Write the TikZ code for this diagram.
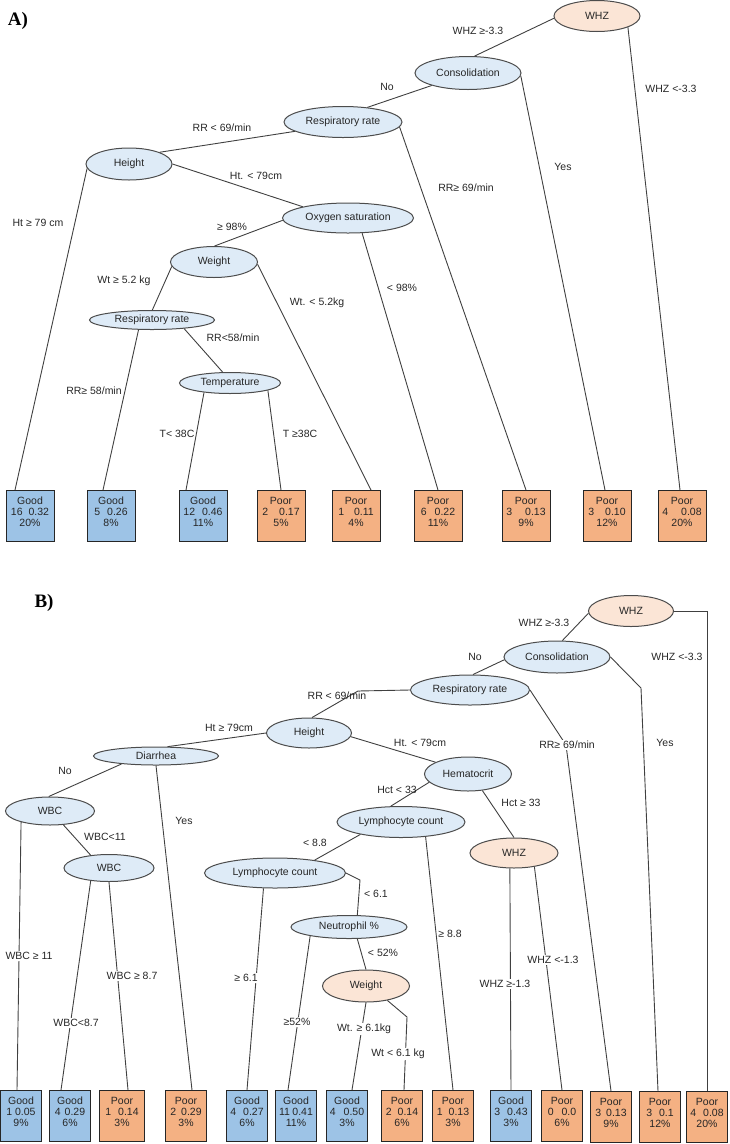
\documentclass[tikz,border=0pt]{standalone}
\usepackage{fontspec}
\setmainfont{Liberation Sans}
\newfontfamily\panelfont{Liberation Serif}
\usepackage{xcolor}
\usepackage{tikz}
\usetikzlibrary{shapes.geometric}
\definecolor{splitblue}{HTML}{DEEBF7}
\definecolor{splitpk}{HTML}{FBE5D6}
\definecolor{goodcolor}{HTML}{9DC3E6}
\definecolor{poorcolor}{HTML}{F4B183}
\definecolor{inkcolor}{HTML}{262626}
\newcommand{\outcome}[3]{\raisebox{0pt}[0pt][0pt]{\begin{tabular}{@{}c@{}}#1\\#2\\#3\end{tabular}}}

\begin{document}
\begin{tikzpicture}[x=1pt, y=-1pt, font=\fontsize{10.5}{11}\selectfont, text=inkcolor,
    split/.style={ellipse, draw=black!70, line width=1pt, fill=splitblue, inner sep=0pt},
    splitwarm/.style={split, fill=splitpk},
    leaf/.style={rectangle, draw=black!85, line width=1pt, inner sep=0pt, minimum width=48pt, minimum height=51pt},
    good/.style={leaf, fill=goodcolor},
    poor/.style={leaf, fill=poorcolor},
    branch/.style={draw=black!75, line width=0.9pt},
    cond/.style={inner sep=1pt},
    condcut/.style={cond, fill=white}]

    \useasboundingbox (0,0) rectangle (730,1144);

    % Panel tags
    \node[font=\panelfont\bfseries\fontsize{19}{19}\selectfont, text=black] (tagA) at (18,21) {A)};
    \node[font=\panelfont\bfseries\fontsize{19}{19}\selectfont, text=black] (tagB) at (44,603) {B)};

    % ---- Tree A: splits
    \node[splitwarm, minimum width=86pt, minimum height=31pt] (aWHZ) at (597,16) {WHZ};
    \node[split, minimum width=106pt, minimum height=33pt] (aCon) at (468,73) {Consolidation};
    \node[split, minimum width=118pt, minimum height=31pt] (aRR) at (343,122) {Respiratory rate};
    \node[split, minimum width=86pt, minimum height=32pt] (aHt) at (129,164) {Height};
    \node[split, minimum width=131pt, minimum height=30pt] (aOx) at (348,218) {Oxygen saturation};
    \node[split, minimum width=87pt, minimum height=31pt] (aWt) at (214,262) {Weight};
    \node[split, minimum width=125pt, minimum height=19pt] (aRR2) at (152,320) {Respiratory rate};
    \node[split, minimum width=101pt, minimum height=21pt] (aTmp) at (230,383) {Temperature};

    % Tree A: outcomes
    \node[good] (aL1) at (30,516) {\outcome{Good}{16\hspace{6pt}0.32}{20\%}};
    \node[good] (aL2) at (111,516) {\outcome{Good}{5\hspace{7pt}0.26}{8\%}};
    \node[good] (aL3) at (203,516) {\outcome{Good}{12\hspace{7pt}0.46}{11\%}};
    \node[poor] (aL4) at (281,516) {\outcome{Poor}{2\hspace{11pt}0.17}{5\%}};
    \node[poor] (aL5) at (356,516) {\outcome{Poor}{1\hspace{10pt}0.11}{4\%}};
    \node[poor] (aL6) at (438,516) {\outcome{Poor}{6\hspace{8pt}0.22}{11\%}};
    \node[poor] (aL7) at (526,516) {\outcome{Poor}{3\hspace{13pt}0.13}{9\%}};
    \node[poor] (aL8) at (607,516) {\outcome{Poor}{3\hspace{11pt}0.10}{12\%}};
    \node[poor] (aL9) at (682,516) {\outcome{Poor}{4\hspace{13pt}0.08}{20\%}};

    % Tree A: branches
    \draw[branch] (aWHZ.183) -- (aCon.69);
    \draw[branch] (aWHZ.-20) -- ([xshift=-2pt]aL9.north);
    \draw[branch] (aCon.199) -- (aRR.31);
    \draw[branch] (aCon.-3) -- ([xshift=-2pt]aL8.north);
    \draw[branch] (aRR.191) -- (aHt.21);
    \draw[branch] (aRR.-5) -- (aL7.north);
    \draw[branch] (aHt.east) -- (aOx.166);
    \draw[branch] (aHt.186) -- ([xshift=-15pt]aL1.north);
    \draw[branch] (aOx.182) -- (aWt.88);
    \draw[branch] (aOx.-47) -- (aL6.north);
    \draw[branch] (aWt.186) -- (aRR2.88);
    \draw[branch] (aWt.-3) -- ([xshift=15pt]aL5.north);
    \draw[branch] (aRR2.216) -- ([xshift=-8pt]aL2.north);
    \draw[branch] (aRR2.-15) -- (aTmp.124);
    \draw[branch] (aTmp.200) -- ([xshift=-17pt]aL3.north);
    \draw[branch] (aTmp.-11) -- (aL4.north);

    % Tree A: split conditions
    \node[cond] (lA1) at (478,31) {WHZ ≥-3.3};
    \node[cond] (lA2) at (671,89) {WHZ <-3.3};
    \node[cond] (lA3) at (387,87) {No};
    \node[cond] (lA4) at (563,167) {Yes};
    \node[cond] (lA5) at (222,128) {RR < 69/min};
    \node[cond] (lA6) at (466,188) {RR≥ 69/min};
    \node[cond] (lA7) at (256,176) {Ht. < 79cm};
    \node[cond] (lA8) at (38,223) {Ht ≥ 79 cm};
    \node[cond] (lA9) at (232,227) {≥ 98\%};
    \node[cond] (lA10) at (402,288) {< 98\%};
    \node[cond] (lA11) at (124,281) {Wt ≥ 5.2 kg};
    \node[cond] (lA12) at (317,303) {Wt. < 5.2kg};
    \node[cond] (lA13) at (94,391) {RR≥ 58/min};
    \node[cond] (lA14) at (233,338) {RR<58/min};
    \node[cond] (lA15) at (177,434) {T< 38C};
    \node[cond] (lA16) at (300,434) {T ≥38C};

    % ---- Tree B: splits
    \node[splitwarm, minimum width=85pt, minimum height=31pt] (bWHZ) at (631,611) {WHZ};
    \node[split, minimum width=106pt, minimum height=32pt] (bCon) at (557,657) {Consolidation};
    \node[split, minimum width=119pt, minimum height=30pt] (bRR) at (470,690) {Respiratory rate};
    \node[split, minimum width=85pt, minimum height=30pt] (bHt) at (309,733) {Height};
    \node[split, minimum width=125pt, minimum height=18pt] (bDia) at (156,756) {Diarrhea};
    \node[split, minimum width=89pt, minimum height=28pt] (bWBC) at (50,811) {WBC};
    \node[split, minimum width=90pt, minimum height=27pt] (bWBC2) at (109,868) {WBC};
    \node[split, minimum width=87pt, minimum height=34pt] (bHct) at (468,774) {Hematocrit};
    \node[split, minimum width=128pt, minimum height=31pt] (bLy) at (401,822) {Lymphocyte count};
    \node[split, minimum width=141pt, minimum height=30pt] (bLy2) at (275,873) {Lymphocyte count};
    \node[split, minimum width=116pt, minimum height=23pt] (bNeu) at (349,927) {Neutrophil \%};
    \node[splitwarm, minimum width=87pt, minimum height=32pt] (bWt) at (366,986) {Weight};
    \node[splitwarm, minimum width=88pt, minimum height=30pt] (bWHZ2) at (514,853) {WHZ};

    % Tree B: outcomes
    \begin{scope}[leaf/.append style={minimum width=41pt}]
    \node[good] (bL1) at (21,1116) {\outcome{Good}{1 0.05}{9\%}};
    \node[good] (bL2) at (70,1116) {\outcome{Good}{4\hspace{4pt}0.29}{6\%}};
    \node[poor, minimum width=45pt] (bL3) at (122,1116) {\outcome{Poor}{1\hspace{7pt}0.14}{3\%}};
    \node[poor] (bL4) at (186,1116) {\outcome{Poor}{2\hspace{5pt}0.29}{3\%}};
    \node[good] (bL5) at (247,1116) {\outcome{Good}{4\hspace{7pt}0.27}{6\%}};
    \node[good] (bL6) at (296,1116) {\outcome{Good}{11\hspace{2.5pt}0.41}{11\%}};
    \node[good] (bL7) at (347,1116) {\outcome{Good}{4\hspace{8pt}0.50}{3\%}};
    \node[poor] (bL8) at (402,1116) {\outcome{Poor}{2\hspace{6pt}0.14}{6\%}};
    \node[poor] (bL9) at (453,1116) {\outcome{Poor}{1\hspace{6pt}0.13}{3\%}};
    \node[good] (bL10) at (511,1116) {\outcome{Good}{3\hspace{7pt}0.43}{3\%}};
    \node[poor] (bL11) at (562,1116) {\outcome{Poor}{0\hspace{8pt}0.0}{6\%}};
    \node[poor] (bL12) at (611,1117) {\outcome{Poor}{3\hspace{5pt}0.13}{9\%}};
    \node[poor] (bL13) at (660,1117) {\outcome{Poor}{3\hspace{7pt}0.1}{12\%}};
    \node[poor] (bL14) at (707,1117) {\outcome{Poor}{4\hspace{7pt}0.08}{20\%}};
    \end{scope}

    % Tree B: branches
    \draw[branch] (bWHZ.183) -- (bCon.72);
    \draw[branch] (bWHZ.east) -| (bL14.north);
    \draw[branch] (bCon.183) -- (bRR.79);
    \draw[branch] (bCon.east) -- (641,688) -- ([xshift=-2pt]bL13.north);
    \draw[branch] (bRR.west) -- (358,691) -- (bHt.79);
    \draw[branch] (bRR.east) -- (566,745) -- (bL12.north);
    \draw[branch] (bHt.west) -- (bDia.39);
    \draw[branch] (bHt.-5) -- (bHct.160);
    \draw[branch] (bDia.193) -- (bWBC.95);
    \draw[branch] (bDia.south) -- ([xshift=6pt]bL4.north);
    \draw[branch] (bWBC.201) -- ([xshift=-4pt]bL1.north);
    \draw[branch] (bWBC.-46) -- (bWBC2.145);
    \draw[branch] (bWBC2.215) -- ([xshift=-9pt]bL2.north);
    \draw[branch] (bWBC2.south) -- ([xshift=6pt]bL3.north);
    \draw[branch] (bHct.192) -- (bLy.123);
    \draw[branch] (bHct.-49) -- (bWHZ2.north);
    \draw[branch] (bLy.197) -- (bLy2.18);
    \draw[branch] (bLy.-31) -- (bL9.north);
    \draw[branch] (bLy2.233) -- (bL5.north);
    \draw[branch] (bLy2.east) -- (360,880) -- (bNeu.55);
    \draw[branch] (bNeu.193) -- ([xshift=-8pt]bL6.north);
    \draw[branch] (bNeu.-55) -- (bWt.north);
    \draw[branch] (bWt.south) -- ([xshift=5pt]bL7.north);
    \draw[branch] (bWt.-34) -- (407,1017) -- ([xshift=2pt]bL8.north);
    \draw[branch] (bWHZ2.255) -- (bL10.north);
    \draw[branch] (bWHZ2.-34) -- (bL11.north);

    % Tree B: split conditions
    \node[cond] (lB1) at (544,623) {WHZ ≥-3.3};
    \node[cond] (lB2) at (677,657) {WHZ <-3.3};
    \node[cond] (lB3) at (475,657) {No};
    \node[cond] (lB4) at (665,743) {Yes};
    \node[cond] (lB5) at (337,696) {RR < 69/min};
    \node[condcut] (lB6) at (567,745) {RR≥ 69/min};
    \node[cond] (lB7) at (229,728) {Ht ≥ 79cm};
    \node[cond] (lB8) at (420,743) {Ht. < 79cm};
    \node[cond] (lB9) at (65,771) {No};
    \node[cond] (lB10) at (184,821) {Yes};
    \node[condcut] (lB11) at (29,956) {WBC ≥ 11};
    \node[cond] (lB12) at (105,837) {WBC<11};
    \node[condcut] (lB13) at (76,1023) {WBC<8.7};
    \node[condcut] (lB14) at (132,976) {WBC ≥ 8.7};
    \node[cond] (lB15) at (397,790) {Hct < 33};
    \node[cond] (lB16) at (521,803) {Hct ≥ 33};
    \node[cond] (lB17) at (315,843) {< 8.8};
    \node[cond] (lB18) at (450,934) {≥ 8.8};
    \node[condcut] (lB19) at (246,978) {≥ 6.1};
    \node[cond] (lB20) at (376,894) {< 6.1};
    \node[condcut] (lB21) at (297,1022) {≥52\%};
    \node[cond] (lB22) at (383,953) {< 52\%};
    \node[condcut] (lB23) at (364,1029) {Wt. ≥ 6.1kg};
    \node[condcut] (lB24) at (398,1054) {Wt < 6.1 kg};
    \node[condcut] (lB25) at (505,984) {WHZ ≥-1.3};
    \node[condcut] (lB26) at (553,960) {WHZ <-1.3};

\end{tikzpicture}
\end{document}
